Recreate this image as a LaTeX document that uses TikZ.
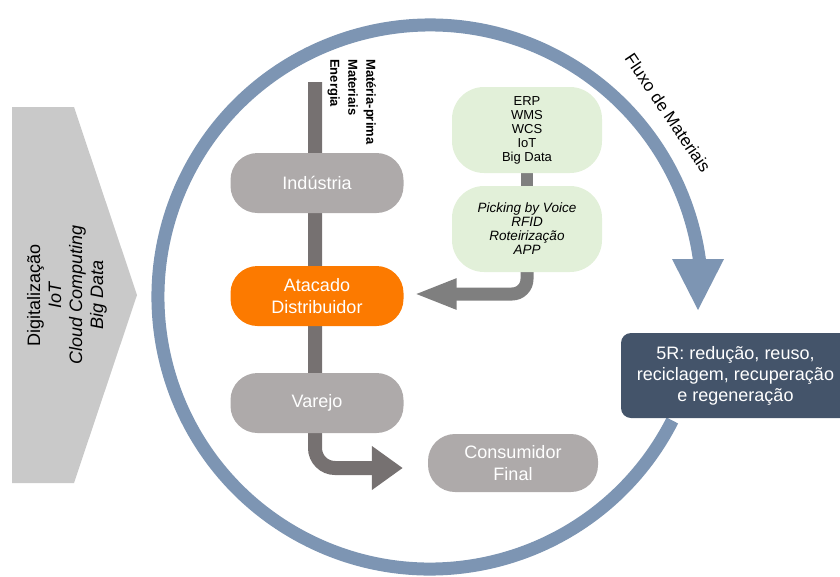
\documentclass[tikz,border=0pt]{standalone}
\usepackage{fontspec}
\setmainfont{Liberation Sans}
\usetikzlibrary{arrows.meta,backgrounds,calc}
\definecolor{ringblue}{HTML}{7D95B3}
\definecolor{chevgray}{HTML}{C9C9C9}
\definecolor{boxgray}{HTML}{AEAAAA}
\definecolor{orangebox}{HTML}{FC7A00}
\definecolor{greenbox}{HTML}{E2F0D9}
\definecolor{bargray}{HTML}{767171}
\definecolor{arrgray}{HTML}{7F7F7F}
\definecolor{darkslate}{HTML}{44546A}
\begin{document}
\begin{tikzpicture}[x=1pt,y=-1pt,
  graybox/.style={fill=boxgray,text=white,rounded corners=27pt,minimum width=173pt,minimum height=60pt,inner sep=0pt,align=center,font=\fontsize{18}{22}\selectfont},
  greenbox/.style={fill=greenbox,text=black,rounded corners=32pt,minimum width=150pt,minimum height=86pt,inner sep=0pt,align=center},
  ringline/.style={draw=ringblue,line width=13pt},
  barline/.style={draw=bargray,line width=14pt,rounded corners=20pt,-{Triangle[length=31pt,width=42pt]}},
  garrow/.style={draw=arrgray,line width=13pt,rounded corners=15pt,-{Triangle[length=43pt,width=28pt]}},
  gconn/.style={draw=arrgray,line width=12pt}]
\useasboundingbox (0,0) rectangle (840,576);
% chevron
\fill[chevgray] (12,107) -- (74,107) -- (137,295) -- (74,483) -- (12,483) -- cycle;
\node[rotate=90,align=center,font=\fontsize{18}{21}\selectfont] (dig) at (67,295)
  {Digitalização\\\textit{IoT}\\\textit{Cloud Computing}\\\textit{Big Data}};
% ring
\draw[ringline] (430,297) ++(27:272) arc[start angle=27,end angle=354,radius=272];
\fill[ringblue] (672,259) -- (724,259) -- (698,310) -- cycle;
\node[rotate=-56,font=\fontsize{17}{20}\selectfont] (fluxo) at (668,113) {Fluxo de Materiais};
% 5R box
\node[fill=darkslate,text=white,rounded corners=10pt,minimum width=229pt,minimum height=85pt,inner sep=0pt,align=center,font=\fontsize{18}{21}\selectfont] (r5) at (735.5,375.5)
  {5R: redução, reuso,\\reciclagem, recuperação\\e regeneração};
% chain boxes
\node[graybox] (ind) at (317,183) {Indústria};
\node[graybox,fill=orangebox] (ata) at (317,296) {Atacado\\Distribuidor};
\node[graybox] (var) at (317,403) {Varejo};
\node[graybox,minimum width=170pt,minimum height=58pt] (con) at (513,463) {Consumidor\\Final};
% green boxes
\node[greenbox,font=\fontsize{13}{14}\selectfont] (g1) at (527,130) {ERP\\WMS\\WCS\\IoT\\Big Data};
\node[greenbox,font=\fontsize{13.5}{14}\selectfont\itshape] (g2) at (527,229) {Picking by Voice\\RFID\\Roteirização\\APP};
% inputs label
\coordinate (top) at (315,82);
\node[rotate=-90,anchor=north west,inner sep=0pt,align=left,font=\fontsize{13}{18}\selectfont\bfseries] (inp) at (376,59)
  {Matéria-prima\\Materiais\\Energia};
\begin{pgfonlayer}{background}
\draw[barline] (top) |- ($(con.west)+(-25,5)$);
\draw[gconn] (g1.south) -- (g2.north);
\draw[garrow] (g2.south) |- ($(ata.east)+(10,-2)$);
\end{pgfonlayer}
\end{tikzpicture}
\end{document}
